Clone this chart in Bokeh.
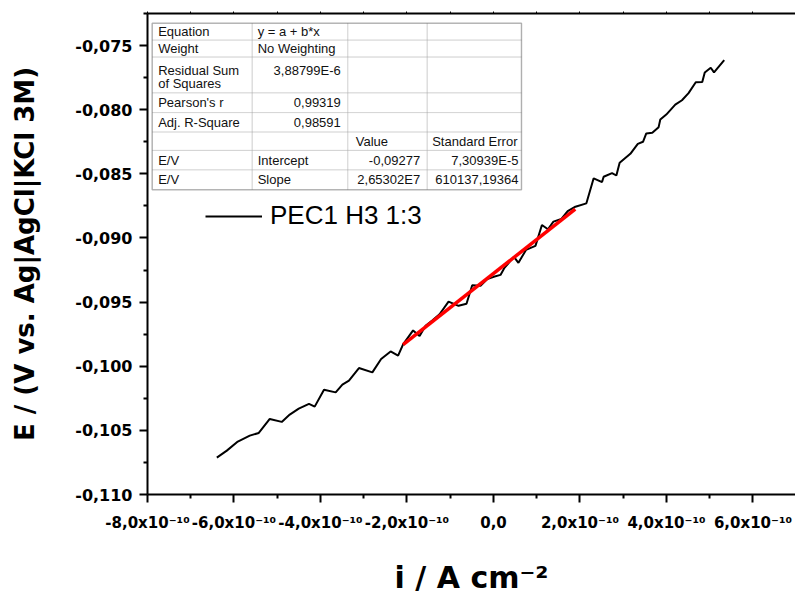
from bokeh.plotting import figure
from bokeh.models import (Range1d, LinearAxis, FixedTicker, BoxAnnotation, Label,
                          Legend, LegendItem)
from bokeh.embed import file_html
from bokeh.resources import INLINE

# ---------------- data ----------------
current = [-6.397e-10, -6.166e-10, -5.912e-10, -5.635e-10, -5.427e-10, -5.173e-10, -4.896e-10,
           -4.711e-10, -4.503e-10, -4.266e-10, -4.134e-10, -3.919e-10, -3.649e-10, -3.494e-10,
           -3.342e-10, -3.111e-10, -2.801e-10, -2.598e-10, -2.379e-10, -2.206e-10, -2.090e-10,
           -1.859e-10, -1.709e-10, -1.570e-10, -1.416e-10, -1.247e-10, -1.039e-10, -0.808e-10,
           -0.624e-10, -0.492e-10, -0.300e-10, -0.145e-10, 0.007e-10, 0.162e-10, 0.254e-10,
           0.473e-10, 0.577e-10, 0.751e-10, 0.970e-10, 1.120e-10, 1.259e-10, 1.386e-10,
           1.570e-10, 1.716e-10, 1.894e-10, 2.148e-10, 2.316e-10, 2.510e-10, 2.547e-10,
           2.741e-10, 2.841e-10, 2.917e-10, 3.164e-10, 3.337e-10, 3.457e-10, 3.533e-10,
           3.672e-10, 3.818e-10, 3.857e-10, 3.995e-10, 4.203e-10, 4.358e-10, 4.510e-10,
           4.677e-10, 4.827e-10, 4.885e-10, 5.023e-10, 5.099e-10, 5.335e-10]
potential = [-0.10712, -0.10658, -0.10587, -0.10541, -0.10520, -0.10411, -0.10434,
             -0.10377, -0.10331, -0.10294, -0.10315, -0.10183, -0.10204, -0.10144,
             -0.10113, -0.10014, -0.10048, -0.09944, -0.09885, -0.09918, -0.09829,
             -0.09721, -0.09765, -0.09685, -0.09643, -0.09595, -0.09496, -0.09529,
             -0.09513, -0.09369, -0.09373, -0.09321, -0.09303, -0.09288, -0.09233,
             -0.09148, -0.09194, -0.09093, -0.09062, -0.08899, -0.08932, -0.08873,
             -0.08852, -0.08790, -0.08756, -0.08730, -0.08535, -0.08564, -0.08523,
             -0.08494, -0.08513, -0.08414, -0.08344, -0.08266, -0.08250, -0.08185,
             -0.08180, -0.08136, -0.08077, -0.08038, -0.07961, -0.07926, -0.07871,
             -0.07786, -0.07785, -0.07710, -0.07673, -0.07709, -0.07614]

fit_current = [-2.09e-10, 1.89e-10]
fit_potential = [-0.09832, -0.08776]

legend_label = "PEC1 H3 1:3"

x_ticks = [-8e-10, -6e-10, -4e-10, -2e-10, 0.0, 2e-10, 4e-10, 6e-10]
x_tick_labels = ["-8,0x10⁻¹⁰", "-6,0x10⁻¹⁰", "-4,0x10⁻¹⁰", "-2,0x10⁻¹⁰", "0,0",
                 "2,0x10⁻¹⁰", "4,0x10⁻¹⁰", "6,0x10⁻¹⁰"]
x_minor = [-7e-10, -5e-10, -3e-10, -1e-10, 1e-10, 3e-10, 5e-10]
y_ticks = [-0.110, -0.105, -0.100, -0.095, -0.090, -0.085, -0.080, -0.075]
y_tick_labels = ["-0,110", "-0,105", "-0,100", "-0,095", "-0,090", "-0,085", "-0,080", "-0,075"]
y_minor = [-0.1075, -0.1025, -0.0975, -0.0925, -0.0875, -0.0825, -0.0775, -0.0725]

x_title = "i / A cm⁻²"
y_title = "E / (V vs. Ag|AgCl|KCl 3M)"

table_col0 = ["Equation", "Weight", "Residual Sum", "Pearson's r", "Adj. R-Square", "", "E/V", "E/V"]
table_col1 = ["y = a + b*x", "No Weighting", "3,88799E-6", "0,99319", "0,98591", "", "Intercept", "Slope"]
table_col2 = ["", "", "", "", "", "Value", "-0,09277", "2,65302E7"]
table_col3 = ["", "", "", "", "", "Standard Error", "7,30939E-5", "610137,19364"]
table_extra = "of Squares"

# ---------------- geometry ----------------
X0, X1 = -8e-10, 6.983e-10
Y0, Y1 = -0.110, -0.0725
FL, FB = 147, 496          # frame left / bottom in canvas pixels
PX_PER_X = 43.25 / 1e-10
PX_PER_Y = 64.4 / 0.005


def sx(px):
    return X0 + (px - FL) / PX_PER_X


def sy(py):
    return Y0 + (FB - py) / PX_PER_Y


p = figure(width=795, height=597, output_backend="svg", toolbar_location=None,
           x_range=Range1d(X0, X1), y_range=Range1d(Y0, Y1),
           min_border_left=FL, min_border_right=0, min_border_top=13,
           min_border_bottom=597 - FB)
p.outline_line_color = None
p.xgrid.visible = False
p.ygrid.visible = False
p.background_fill_color = "white"
p.border_fill_color = "white"

data_line = p.line(current, potential, line_color="black", line_width=2)
p.line(fit_current, fit_potential, line_color="#ff0000", line_width=3.5)

BOLD = "DejaVu Sans"

xa = p.xaxis[0]
xa.ticker = FixedTicker(ticks=x_ticks, minor_ticks=x_minor)
xa.major_label_overrides = dict(zip(x_ticks, x_tick_labels))
xa.axis_label = x_title
ya = p.yaxis[0]
ya.ticker = FixedTicker(ticks=y_ticks, minor_ticks=y_minor)
ya.major_label_overrides = dict(zip(y_ticks, y_tick_labels))
ya.axis_label = y_title

for ax in (xa, ya):
    ax.axis_line_width = 2
    ax.axis_line_color = "black"
    ax.major_tick_line_width = 2
    ax.minor_tick_line_width = 2
    ax.major_tick_out = 8
    ax.major_tick_in = 0
    ax.minor_tick_out = 4
    ax.minor_tick_in = 0
    ax.major_label_text_font = BOLD
    ax.major_label_text_font_style = "bold"
    ax.major_label_text_color = "black"
    ax.axis_label_text_font = BOLD
    ax.axis_label_text_font_style = "bold"
    ax.axis_label_text_color = "black"

xa.major_label_text_font_size = "15px"
xa.major_label_standoff = 11
xa.axis_label_text_font_size = "30px"
xa.axis_label_standoff = 25
ya.major_label_text_font_size = "16px"
ya.major_label_standoff = 7
ya.axis_label_text_font_size = "26px"
ya.axis_label_standoff = 32

# top frame line with small tick marks only (no labels)
top = LinearAxis(ticker=FixedTicker(ticks=[], minor_ticks=x_ticks + x_minor),
                 major_tick_out=0, major_tick_in=0, minor_tick_out=2, minor_tick_in=0,
                 major_label_standoff=0, axis_line_width=2, minor_tick_line_width=1)
p.add_layout(top, "above")

# ---------------- legend ----------------
legend = Legend(items=[LegendItem(label=legend_label, renderers=[data_line])],
                location=(58, 263), border_line_color=None, background_fill_alpha=0,
                label_text_font="Liberation Sans", label_text_font_size="26px",
                label_text_color="black", glyph_width=57, glyph_height=26,
                label_height=26, label_standoff=8, padding=0, margin=0, spacing=0)
p.add_layout(legend)

# ---------------- fit table ----------------
col_px = [151.7, 251.7, 347.3, 426.7, 521.0]
row_px = [22.7, 39.7, 56.7, 92.7, 112.5, 132.0, 150.5, 170.0, 190.0]

p.add_layout(BoxAnnotation(left=sx(col_px[0]), right=sx(col_px[-1]), top=sy(row_px[0]),
                           bottom=sy(row_px[-1]), fill_color="white", fill_alpha=1,
                           line_color=None))
for r in range(len(row_px) - 1):
    for c in range(len(col_px) - 1):
        p.add_layout(BoxAnnotation(left=sx(col_px[c]), right=sx(col_px[c + 1]),
                                   top=sy(row_px[r]), bottom=sy(row_px[r + 1]),
                                   fill_color=None, line_color="#a8a8a8", line_width=1))
p.add_layout(BoxAnnotation(left=sx(col_px[0]), right=sx(col_px[-1]), top=sy(row_px[0]),
                           bottom=sy(row_px[-1]), fill_color=None, line_color="#333333",
                           line_width=1.5))


def is_num(s):
    return len(s) > 0 and (s[0].isdigit() or s[0] == "-")


def add_text(txt, px_left, px_right, py, numeric):
    if not txt:
        return
    if numeric:
        p.add_layout(Label(x=sx(px_right), y=sy(py), text=txt, text_align="right",
                           text_baseline="middle", text_font="Liberation Sans",
                           text_font_size="13px", text_color="#111111"))
    else:
        p.add_layout(Label(x=sx(px_left), y=sy(py), text=txt, text_align="left",
                           text_baseline="middle", text_font="Liberation Sans",
                           text_font_size="13px", text_color="#111111"))


cols = [table_col0, table_col1, table_col2, table_col3]
right_pad = [6, 7, 7, 3]
left_pad = [6, 5.5, 8, 5]
for r in range(len(row_px) - 1):
    yc = (row_px[r] + row_px[r + 1]) / 2
    if r == 2:
        yc = 70
    for c in range(4):
        txt = cols[c][r]
        add_text(txt, col_px[c] + left_pad[c], col_px[c + 1] - right_pad[c], yc, is_num(txt))
add_text(table_extra, col_px[0] + left_pad[0], 0, 83.5, False)

open("out.html", "w").write(file_html(p, INLINE))
